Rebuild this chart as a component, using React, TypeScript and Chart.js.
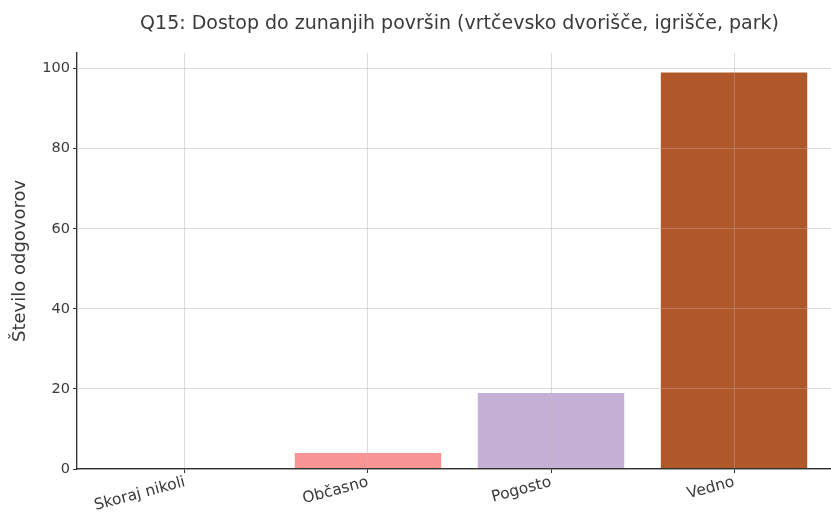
import React, { useEffect, useRef } from "react";
import { Chart, registerables } from "chart.js";

Chart.register(...registerables);

const categories = ["Skoraj nikoli", "Občasno", "Pogosto", "Vedno"];
const counts = [0, 4, 19, 99];
const barColors = ["#9edae5", "#f79494", "#c5b0d5", "#b0582a"];
const yTicks = [0, 20, 40, 60, 80, 100];

const titleText = "Q15: Dostop do zunanjih površin (vrtčevsko dvorišče, igrišče, park)";
const yTitle = "Število odgovorov";

const FONT = "'DejaVu Sans', sans-serif";
const TEXT = "#3a3a3a";
const AXIS = "#333333";
const GRID = "rgba(190,190,190,0.33)";

const gridOnTop = {
  id: "gridOnTop",
  afterDatasetsDraw(chart: any) {
    const area = chart.chartArea;
    ["x", "y"].forEach((k) => {
      const s = chart.scales[k];
      if (s && typeof s.drawGrid === "function") s.drawGrid(area);
      if (s && typeof s.drawBorder === "function") s.drawBorder();
    });
  },
};

export default function App() {
  const ref = useRef<HTMLCanvasElement | null>(null);

  useEffect(() => {
    if (!ref.current) return;
    const chart = new Chart(ref.current, {
      type: "bar",
      data: {
        datasets: [
          {
            data: counts.map((v, i) => ({ x: i, y: v })),
            backgroundColor: barColors,
            borderWidth: 0,
            barPercentage: 0.8,
            categoryPercentage: 1,
          },
        ],
      },
      options: {
        responsive: false,
        animation: false,
        devicePixelRatio: 1,
        layout: { padding: { left: 0, right: 18, top: 0, bottom: 0 } },
        plugins: {
          legend: { display: false },
          tooltip: { enabled: false },
          title: {
            display: true,
            text: titleText,
            fullSize: false,
            color: TEXT,
            font: { family: FONT, size: 19, weight: "normal" },
            padding: { top: 13, bottom: 17 },
          },
        },
        scales: {
          x: {
            type: "linear",
            min: -0.59,
            max: 3.59,
            offset: false,
            afterFit: (s: any) => {
              s.height = 50;
            },
            afterBuildTicks: (s: any) => {
              s.ticks = categories.map((_, i) => ({ value: i }));
            },
            grid: {
              offset: false,
              color: GRID,
              lineWidth: 1,
              tickColor: AXIS,
              tickLength: 4,
            },
            border: { color: AXIS, width: 1.2 },
            ticks: {
              autoSkip: false,
              maxRotation: 15,
              minRotation: 15,
              padding: 0,
              color: TEXT,
              font: { family: FONT, size: 15.5 },
              callback: (v: any) => {
                const i = Number(v);
                return Number.isInteger(i) && categories[i] ? categories[i] : "";
              },
            },
          },
          y: {
            type: "linear",
            min: 0,
            max: 103.95,
            afterFit: (s: any) => {
              s.width = 77;
            },
            afterBuildTicks: (s: any) => {
              s.ticks = yTicks.map((v) => ({ value: v }));
            },
            grid: {
              color: GRID,
              lineWidth: 1,
              tickColor: AXIS,
              tickLength: 4,
            },
            border: { color: AXIS, width: 1.2 },
            title: {
              display: true,
              text: yTitle,
              color: TEXT,
              font: { family: FONT, size: 18 },
              padding: { top: 10, bottom: 0 },
            },
            ticks: {
              padding: 3,
              color: TEXT,
              font: { family: FONT, size: 14.5 },
            },
          },
        },
      },
      plugins: [gridOnTop],
    });
    return () => chart.destroy();
  }, []);

  return (
    <div
      style={{
        position: "fixed",
        left: 0,
        top: 0,
        width: 831,
        height: 519,
        overflow: "hidden",
        background: "#ffffff",
      }}
    >
      <canvas ref={ref} width={860} height={519} style={{ width: 860, height: 519, display: "block" }} />
    </div>
  );
}
